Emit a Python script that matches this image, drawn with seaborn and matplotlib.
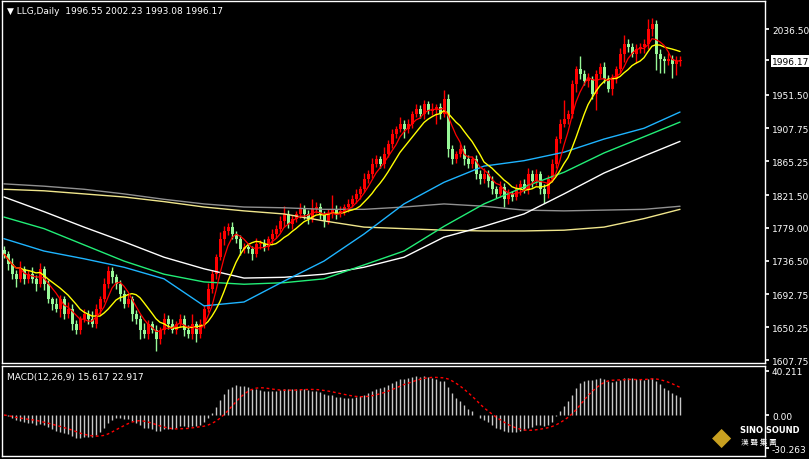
import numpy as np
import pandas as pd
import matplotlib
matplotlib.use("Agg")
import matplotlib.pyplot as plt
import seaborn as sns

# daily closes (170 bars)
closes = [
    1745, 1732, 1719, 1713, 1726, 1713, 1719, 1713, 1706, 1726,
    1706, 1687, 1680, 1674, 1687, 1667, 1674, 1655, 1647, 1661,
    1667, 1661, 1655, 1674, 1687, 1706, 1723, 1715, 1706, 1693,
    1680, 1687, 1667, 1661, 1647, 1641, 1655, 1647, 1635, 1647,
    1661, 1655, 1647, 1655, 1661, 1647, 1641, 1655, 1641, 1655,
    1674, 1700, 1719, 1741, 1764, 1775, 1780, 1771, 1764, 1752,
    1754, 1752, 1745, 1758, 1758, 1754, 1764, 1771, 1778, 1788,
    1797, 1784, 1790, 1797, 1803, 1797, 1790, 1803, 1806, 1797,
    1788, 1797, 1803, 1797, 1801, 1806, 1810, 1816, 1823, 1829,
    1842, 1849, 1862, 1868, 1862, 1875, 1888, 1901, 1907, 1914,
    1907, 1914, 1926, 1933, 1926, 1939, 1930, 1933, 1935, 1926,
    1946, 1881, 1868, 1875, 1881, 1868, 1862, 1868, 1849, 1842,
    1849, 1840, 1829, 1823, 1832, 1816, 1823, 1819, 1829, 1836,
    1829, 1849, 1840, 1849, 1829, 1823, 1842, 1862, 1894, 1914,
    1920, 1926, 1965, 1985, 1978, 1969, 1972, 1952, 1978, 1987,
    1972, 1959, 1972, 1985, 2004, 2017, 2013, 2004, 2010, 2013,
    2017, 2037, 2043, 2004, 1998, 1995, 1998, 1991, 1995, 1996.17,
]
first_open = 1750
wick_up = [
    6, 4, 8, 5, 10, 4, 6, 9, 5, 7, 4, 6, 3, 8, 5, 4, 9, 6, 5, 4,
    7, 5, 10, 6, 4, 8, 6, 5, 4, 6, 5, 7, 4, 6, 5, 9, 5, 4, 6, 3,
    8, 5, 6, 4, 7, 5, 6, 12, 4, 6, 5, 8, 6, 4, 10, 6, 5, 7, 4, 6,
    5, 6, 4, 8, 5, 6, 4, 7, 5, 6, 10, 5, 6, 4, 8, 6, 5, 14, 6, 5,
    4, 6, 18, 5, 6, 4, 7, 5, 6, 4, 8, 5, 7, 6, 4, 9, 5, 6, 4, 8,
    5, 6, 4, 7, 5, 6, 4, 8, 5, 6, 12, 6, 5, 4, 7, 5, 6, 4, 6, 5,
    7, 5, 6, 4, 8, 5, 6, 4, 7, 5, 6, 8, 5, 6, 4, 7, 5, 6, 4, 6,
    25, 5, 6, 4, 16, 5, 8, 4, 6, 5, 7, 5, 6, 4, 8, 12, 6, 5, 7, 5,
    6, 12, 8, 5, 6, 4, 7, 5, 6, 6,
]
wick_dn = [
    5, 8, 6, 10, 4, 7, 5, 6, 9, 4, 8, 5, 7, 4, 10, 6, 5, 8, 6, 5,
    4, 7, 5, 6, 8, 4, 5, 7, 6, 9, 5, 4, 8, 6, 12, 5, 6, 4, 15, 6,
    5, 7, 4, 6, 5, 8, 4, 6, 10, 5, 6, 4, 5, 6, 4, 7, 5, 6, 4, 8,
    6, 5, 7, 4, 6, 5, 4, 6, 5, 4, 8, 5, 6, 4, 5, 7, 6, 4, 5, 6,
    8, 4, 5, 6, 4, 5, 6, 4, 5, 6, 4, 5, 6, 4, 5, 6, 4, 5, 6, 4,
    12, 5, 6, 4, 5, 6, 4, 5, 20, 6, 4, 10, 6, 5, 4, 8, 6, 5, 7, 6,
    5, 8, 6, 5, 4, 10, 6, 5, 4, 7, 5, 6, 8, 5, 6, 12, 5, 4, 6, 5,
    4, 6, 5, 10, 6, 5, 8, 6, 20, 5, 6, 4, 8, 6, 5, 10, 6, 4, 12, 5,
    8, 6, 10, 20, 18, 16, 5, 18, 14, 6,
]

# long moving averages, read every 10 bars
ma_idx = [0, 10, 20, 30, 40, 50, 60, 70, 80, 90, 100, 110, 120, 130, 140, 150, 160, 169]
ma_white = [1819, 1800, 1780, 1761, 1741, 1726, 1714, 1715, 1719, 1728, 1741, 1767, 1781, 1797, 1823, 1850, 1872, 1891]
ma_green = [1793, 1778, 1757, 1736, 1719, 1709, 1706, 1708, 1713, 1731, 1749, 1781, 1810, 1832, 1851, 1876, 1897, 1916]
ma_blue = [1765, 1749, 1739, 1728, 1713, 1678, 1683, 1710, 1736, 1771, 1810, 1838, 1859, 1866, 1877, 1894, 1908, 1929]
ma_gray = [1836, 1833, 1829, 1823, 1816, 1810, 1806, 1805, 1803, 1803, 1806, 1810, 1807, 1802, 1801, 1802, 1803, 1807]
ma_khaki = [1829, 1827, 1823, 1819, 1813, 1806, 1801, 1797, 1788, 1780, 1778, 1776, 1775, 1775, 1776, 1780, 1791, 1803]

price_ticks = [2036.50, 1996.17, 1951.50, 1907.75, 1865.25, 1821.50, 1779.00, 1736.50, 1692.75, 1650.25, 1607.75]
macd_ticks = [40.211, 0.00, -30.263]

df = pd.DataFrame({"close": closes})
df["open"] = [first_open] + closes[:-1]
df["high"] = df[["open", "close"]].max(axis=1) + np.array(wick_up)
df["low"] = df[["open", "close"]].min(axis=1) - np.array(wick_dn)
df["i"] = np.arange(len(df))
df["ma5"] = df["close"].rolling(5, min_periods=1).mean()
df["ma10"] = df["close"].rolling(10, min_periods=1).mean()
ema12 = df["close"].ewm(span=12, adjust=False).mean()
ema26 = df["close"].ewm(span=26, adjust=False).mean()
df["macd"] = ema12 - ema26
df["signal"] = df["macd"].rolling(9, min_periods=1).mean()

sns.set_theme(style="dark", rc={"axes.facecolor": "black", "figure.facecolor": "black"})
fig = plt.figure(figsize=(8.09, 4.60), dpi=100)
W, H = 809, 460
ax = fig.add_axes([2 / W, 1 - 364 / H, 763 / W, 362 / H])
ax2 = fig.add_axes([2 / W, 1 - 457 / H, 763 / W, 90 / H])

up = df["close"] >= df["open"]
for m, col in [(up, "#ff0000"), (~up, "#98f898")]:
    d = df[m]
    ax.vlines(d["i"], d["low"], d["high"], color=col, lw=1)
    ax.bar(d["i"], (d["close"] - d["open"]).abs().clip(lower=1.2),
           bottom=d[["open", "close"]].min(axis=1), width=0.75, color=col, lw=0)

ma = pd.DataFrame({"i": ma_idx, "white": ma_white, "green": ma_green, "blue": ma_blue,
                   "gray": ma_gray, "khaki": ma_khaki})
for name, col in [("gray", "#909090"), ("khaki", "#f0e68c"), ("white", "#ffffff"),
                  ("green", "#22ee77"), ("blue", "#1eb4ff")]:
    sns.lineplot(data=ma, x="i", y=name, ax=ax, color=col, lw=1)
sns.lineplot(data=df, x="i", y="ma10", ax=ax, color="#ffff00", lw=1)
sns.lineplot(data=df, x="i", y="ma5", ax=ax, color="#ff0000", lw=0.9)

ax2.vlines(df["i"], 0, df["macd"], color="#c8c8c8", lw=1)
sns.lineplot(data=df, x="i", y="signal", ax=ax2, color="#ff0000", lw=1, linestyle=(0, (2, 2)))

for a in (ax, ax2):
    a.set_xlim(-0.5, 190.25)
    a.set_xticks([])
    a.set_xlabel("")
    a.set_ylabel("")
    a.yaxis.tick_right()
    a.tick_params(axis="y", colors="white", labelsize=6.5, length=3, pad=2)
    for s in a.spines.values():
        s.set_color("white")
        s.set_linewidth(1)
    a.grid(False)

ax.set_ylim(1604, 2072.8)
ax.set_yticks(price_ticks)
ax.set_yticklabels([f"{v:.2f}" for v in price_ticks])
lbl = ax.get_yticklabels()[1]
lbl.set_color("black")
lbl.set_bbox(dict(facecolor="white", edgecolor="none", pad=1))

ax2.set_ylim(-37.3, 44.6)
ax2.set_yticks(macd_ticks)
ax2.set_yticklabels(["40.211", "0.00", "-30.263"])

ax.text(0.006, 0.985, "\u25bc LLG,Daily  1996.55 2002.23 1993.08 1996.17", transform=ax.transAxes,
        color="white", fontsize=6.5, va="top")
ax2.text(0.006, 0.93, "MACD(12,26,9) 15.617 22.917", transform=ax2.transAxes,
         color="white", fontsize=6.5, va="top")

fig.text(722 / W, 1 - 438 / H, "\u25c6", color="#c8a020", fontsize=18, ha="center", va="center")
fig.text(740 / W, 1 - 431 / H, "SINO SOUND", color="white", fontsize=6, weight="bold", va="center")
fig.text(741 / W, 1 - 443 / H, "漢 聲 集 團", color="white", fontsize=5.5, va="center",
         family="Noto Sans CJK JP")

fig.savefig("out.png", dpi=100, facecolor="black")
